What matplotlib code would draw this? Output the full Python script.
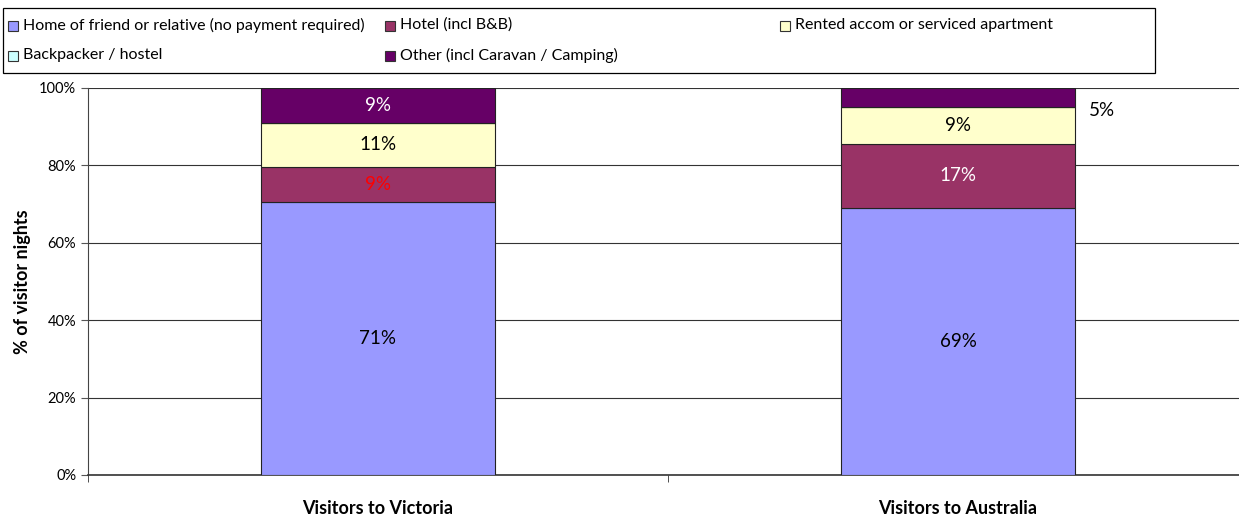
import numpy as np
import matplotlib.pyplot as plt
from matplotlib.patches import Rectangle

plt.rcParams['font.family'] = ['Lato', 'DejaVu Sans']

categories = ['Visitors to Victoria', 'Visitors to Australia']
series = ['Home of friend or relative (no payment required)', 'Hotel (incl B&B)',
          'Rented accom or serviced apartment', 'Backpacker / hostel',
          'Other (incl Caravan / Camping)']
home = [70.6, 69.0]
hotel = [9.0, 16.6]
rented = [11.4, 9.4]
backpacker = [0.0, 0.0]
other = [9.0, 5.0]

colors = ['#9999FF', '#993366', '#FFFFCC', '#CCFFFF', '#660066']
# label colours per series, per bar (None = no label inside)
label_colors = [['black', 'black'], ['red', 'white'], ['black', 'black'],
                [None, None], ['white', None]]

W, H = 1239, 517
fig = plt.figure(figsize=(W / 100, H / 100), dpi=100)
ax = fig.add_axes([88 / W, 1 - 475 / H, 1160 / W, 387 / H])

x = np.arange(len(categories))
bottom = np.zeros(len(categories))
data = [home, hotel, rented, backpacker, other]
for i, vals in enumerate(data):
    vals = np.array(vals)
    ax.bar(x, vals, 0.402, bottom=bottom, color=colors[i], edgecolor='#222222',
           linewidth=0.8, zorder=3)
    for j in range(len(categories)):
        c = label_colors[i][j]
        if c is not None and vals[j] > 0:
            ax.text(x[j], bottom[j] + vals[j] / 2, '%d%%' % round(vals[j]),
                    ha='center', va='center', fontsize=13.5, color=c, zorder=4)
    bottom += vals

# small "Other" label for Australia sits outside the bar
ax.text(x[1] + 0.225, 94.3, '%d%%' % round(other[1]), ha='left', va='center',
        fontsize=13.5, color='black')

ax.set_xlim(-0.5, 1.5)
ax.set_ylim(0, 100)
ax.set_yticks(np.arange(0, 101, 20))
ax.set_yticklabels(['%d%%' % v for v in range(0, 101, 20)], fontsize=10.5)
ax.yaxis.grid(True, color='#333333', linewidth=0.8, zorder=0)
ax.set_ylabel('% of visitor nights', fontsize=13, fontweight='bold', labelpad=6)

ax.set_xticks(x)
ax.set_xticklabels(categories, fontsize=13, fontweight='bold')
ax.tick_params(axis='x', which='major', length=0, pad=18)
ax.set_xticks([-0.5, 0.5, 1.5], minor=True)
ax.tick_params(axis='x', which='minor', length=5, color='#333333')
ax.tick_params(axis='y', length=5, color='#555555')

for s in ['top', 'right']:
    ax.spines[s].set_visible(False)
ax.spines['left'].set_color('#444444')
ax.spines['bottom'].set_color('#333333')
ax.spines['bottom'].set_linewidth(1.2)

# legend box, drawn by hand to follow the reference layout
def px(xp, yp):
    return xp / W, 1 - yp / H

fig.patches.append(Rectangle(px(3, 73), 1152 / W, 65 / H, transform=fig.transFigure,
                             facecolor='white', edgecolor='black', linewidth=0.9))
slots = [(8, 25), (385, 25), (780, 25), (8, 55), (385, 55)]
for k, (xp, yp) in enumerate(slots):
    fig.patches.append(Rectangle(px(xp, yp + 6), 10 / W, 10 / H, transform=fig.transFigure,
                                 facecolor=colors[k], edgecolor='#333333', linewidth=0.8))
    fig.text(*px(xp + 15, yp), series[k], fontsize=11.5, ha='left', va='center')

fig.savefig('out.png', dpi=100)
